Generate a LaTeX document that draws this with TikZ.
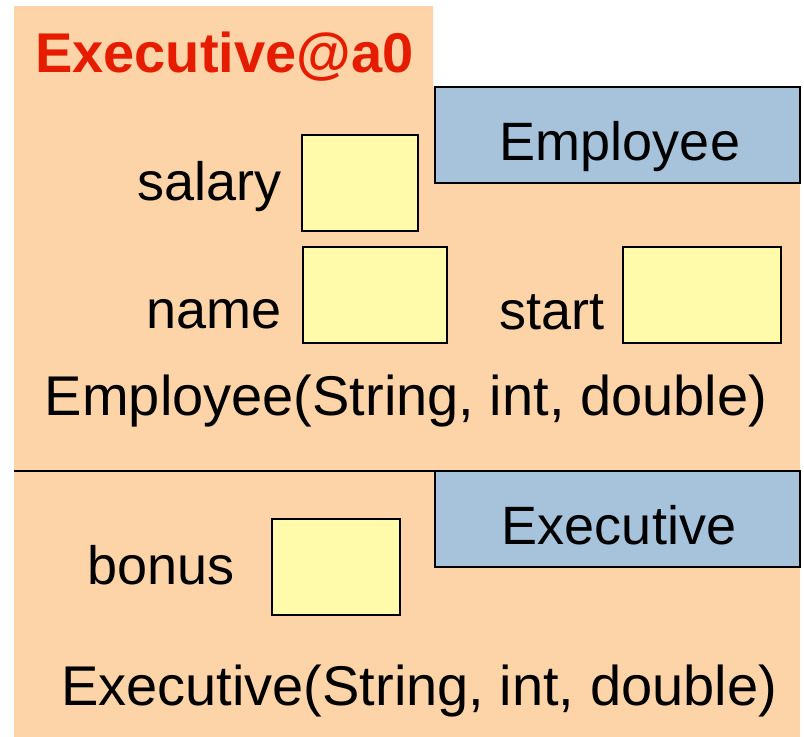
\documentclass[tikz,border=0pt]{standalone}
\usepackage{fontspec}
\setmainfont{Liberation Sans}
\definecolor{peach}{RGB}{253,212,168}
\definecolor{slot}{RGB}{255,251,170}
\definecolor{tagblue}{RGB}{166,195,219}
\definecolor{objred}{RGB}{230,28,0}

\begin{document}
\begin{tikzpicture}[x=1pt,y=-1pt,
  field/.style={draw, line width=2pt, fill=slot},
  classtag/.style={draw, line width=2pt, fill=tagblue},
  word/.style={inner sep=0pt, font=\fontsize{54}{60}\selectfont},
  cons/.style={inner sep=0pt, anchor=base, font=\fontsize{56}{60}\selectfont}]

\useasboundingbox (0,0) rectangle (804,737);

% the object
\fill[peach] (14,6) -- (433,6) -- (433,87) -- (800,87) -- (800,737) -- (14,737) -- cycle;
\node[word, anchor=base west, text=objred, font=\fontsize{56}{60}\selectfont\bfseries] (objname) at (35,72) {Executive@a0};

% Employee part
\draw[classtag] (435,87) rectangle (800,183);
\node[word, anchor=base] (emptag) at (620,160) {Employee};

\draw[field] (302,135) rectangle (418,231);
\node[word, anchor=base east] (salary) at (282,200) {salary};

\draw[field] (303,247) rectangle (447,343);
\node[word, anchor=base east] (name) at (282,328) {name};

\draw[field] (623,247) rectangle (781,343);
\node[word, anchor=base east] (start) at (605,329) {start};

\node[cons] (empcons) at (406,415) {Employee(String, int, double)};

\draw[line width=2pt] (14,471) -- (800,471);

% Executive part
\draw[classtag] (435,471) rectangle (800,567);
\node[word, anchor=base] (exectag) at (619,544) {Executive};

\draw[field] (272,519) rectangle (400,615);
\node[word, anchor=base east] (bonus) at (235,584) {bonus};

\node[cons] (execcons) at (419,705) {Executive(String, int, double)};

\end{tikzpicture}
\end{document}
